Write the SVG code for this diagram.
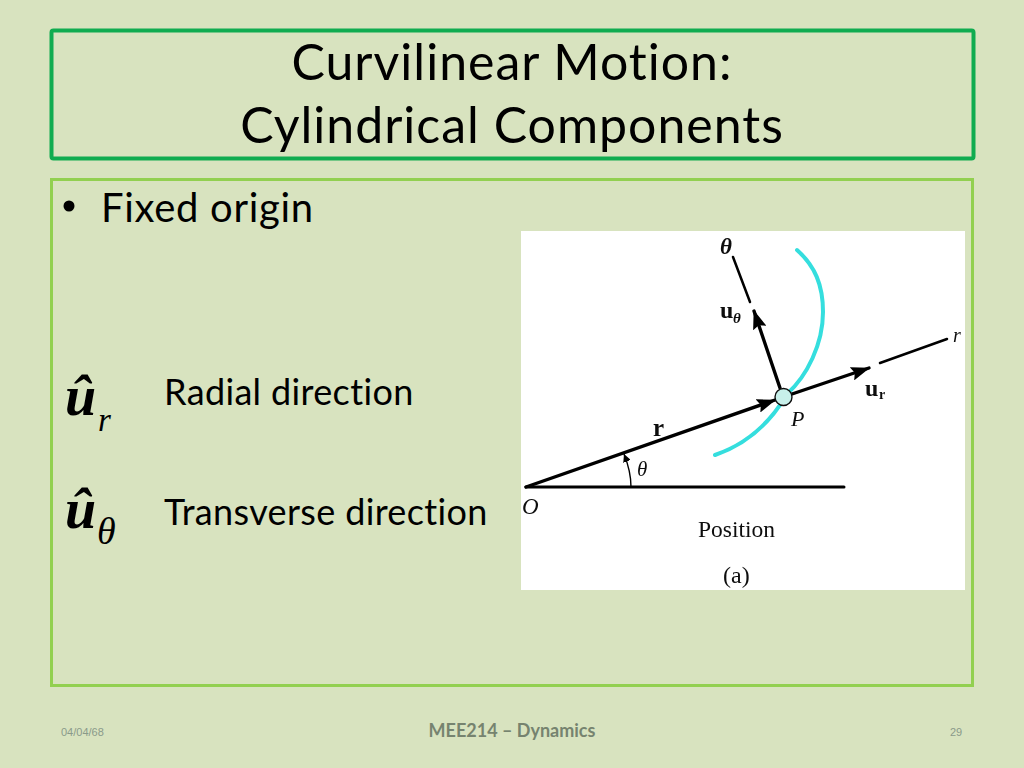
<svg xmlns="http://www.w3.org/2000/svg" width="1024" height="768" viewBox="0 0 1024 768">
<style>
.l{font-family:Lato,"Noto Sans",sans-serif;fill:#000;font-variant-ligatures:none}
.t{font-size:50px;text-anchor:middle;letter-spacing:1px}
.b{font-size:36px;letter-spacing:.35px}
.s{font-family:"Liberation Serif",serif;fill:#111}
.m{font-family:"Liberation Serif",serif;font-style:italic;fill:#000}
.ln{stroke:#000;fill:none;stroke-linecap:round}
</style>
<defs>
<marker id="a" markerUnits="userSpaceOnUse" markerWidth="20" markerHeight="14" refX="18" refY="7" orient="auto"><path d="M0 0L19 7L0 14L3 7Z" fill="#000"/></marker>
<marker id="b" markerUnits="userSpaceOnUse" markerWidth="9" markerHeight="8" refX="8" refY="4" orient="auto"><path d="M0 0L8 4L0 8Z" fill="#000"/></marker>
<filter id="soft" x="-10%" y="-10%" width="120%" height="120%"><feGaussianBlur stdDeviation="0.6"/></filter>
</defs>
<rect width="1024" height="768" fill="#d8e3bf"/>
<g id="title">
<rect x="51.5" y="30.5" width="922" height="128" rx="2" fill="none" stroke="#10ac50" stroke-width="4"/>
<text class="l t" x="512" y="80">Curvilinear Motion:</text>
<text class="l t" x="512" y="143">Cylindrical Components</text>
</g>
<g id="body">
<rect x="51.5" y="179.5" width="921" height="506" fill="none" stroke="#92d050" stroke-width="3"/>
<circle cx="69" cy="206" r="5.500" fill="#000"/>
<text class="l" x="101" y="222" font-size="40" letter-spacing=".7">Fixed origin</text>
</g>
<g id="radial">
<text class="m" x="65" y="415" font-size="56" font-weight="bold">û</text>
<text class="m" x="98" y="431" font-size="33">r</text>
<text class="l b" x="164" y="405">Radial direction</text>
</g>
<g id="transverse">
<text class="m" x="65" y="528" font-size="56" font-weight="bold">û</text>
<text class="m" x="97" y="544" font-size="38">θ</text>
<text class="l b" x="164" y="525">Transverse direction</text>
</g>
<g id="figure">
<rect x="521" y="231" width="444" height="359" fill="#fff"/>
<g filter="url(#soft)">
<path d="M797 250C815 266 823 285 823 312C823 344 807 376 787 394C772 420 750 443 715 455" fill="none" stroke="#34dede" stroke-width="4" stroke-linecap="round"/>
<g id="connectors">
<path class="ln" d="M526 487H844" stroke-width="3"/>
<path class="ln" d="M526 487L775 400" stroke-width="3.4" marker-end="url(#a)"/>
<path class="ln" d="M792 394L869 368" stroke-width="3.4" marker-end="url(#a)"/>
<path class="ln" d="M880 363L947 339" stroke-width="2.5"/>
<path class="ln" d="M780 388L754 311" stroke-width="3.4" marker-end="url(#a)"/>
<path class="ln" d="M750 302L733 257" stroke-width="2.5"/>
<path class="ln" d="M631 487C631 474 628 464 624 454" stroke-width="1.4" marker-end="url(#b)"/>
</g>
<circle cx="783.500" cy="397" r="8.500" fill="#c8f0ea" stroke="#111" stroke-width="1.400"/>
<text class="s" x="720" y="254" font-size="23" font-style="italic" font-weight="bold">θ</text>
<text class="s" x="720" y="318" font-size="24" font-weight="bold">u</text>
<text class="s" x="733" y="323" font-size="15" font-weight="bold" font-style="italic">θ</text>
<text class="s" x="865" y="396" font-size="24" font-weight="bold">u</text>
<text class="s" x="879" y="399" font-size="14" font-weight="bold">r</text>
<text class="s" x="953" y="342" font-size="20" font-style="italic">r</text>
<text class="s" x="791" y="426" font-size="22" font-style="italic">P</text>
<text class="s" x="653" y="436" font-size="25" font-weight="bold">r</text>
<text class="s" x="637" y="476" font-size="21" font-style="italic">θ</text>
<text class="s" x="522" y="514" font-size="23" font-style="italic">O</text>
<text class="s" x="698" y="537" font-size="23.500">Position</text>
<text class="s" x="723" y="583" font-size="24">(a)</text>
</g>
</g>
<g id="footer">
<text x="61" y="736" font-family="'Liberation Sans',sans-serif" font-size="11" fill="#8a9a8a">04/04/68</text>
<text class="l" x="512" y="737" font-size="18" font-weight="bold" text-anchor="middle" style="fill:#76836f">MEE214 – Dynamics</text>
<text x="956" y="736" font-family="'Liberation Sans',sans-serif" font-size="11" text-anchor="middle" fill="#8a9a8a">29</text>
</g>
</svg>
